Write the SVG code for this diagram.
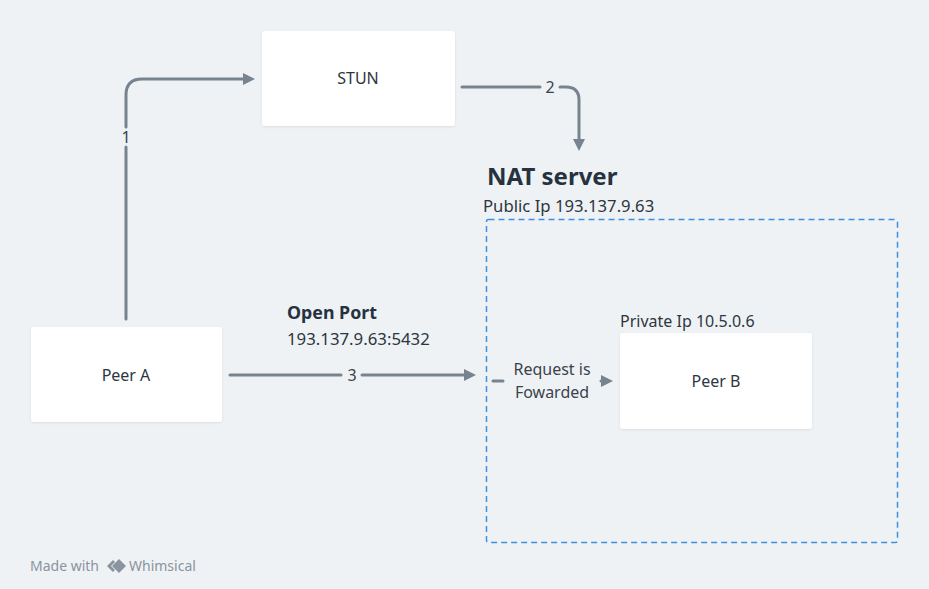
<svg xmlns="http://www.w3.org/2000/svg" width="929" height="589" viewBox="0 0 929 589">
<defs>
<style>
.node{fill:#ffffff;filter:url(#sh)}
.lbl{font-family:"Noto Sans","Liberation Sans",sans-serif;font-size:16px;fill:#2d3640}
.conn{fill:none;stroke:#77838f;stroke-width:3;stroke-linecap:round}
.cl{font-family:"Noto Sans","Liberation Sans",sans-serif;font-size:16px;fill:#3a434c;text-anchor:middle}
</style>
<filter id="sh" x="-10%" y="-10%" width="120%" height="130%">
<feDropShadow dx="0" dy="1" stdDeviation="1" flood-color="#000" flood-opacity="0.08"/>
</filter>
<marker id="ah" viewBox="0 0 10 10" refX="5" refY="5" markerWidth="4" markerHeight="4" orient="auto" markerUnits="strokeWidth">
<path d="M0,0 L10,5 L0,10 z" fill="#77838f"/>
</marker>
</defs>
<rect width="929" height="589" fill="#eff2f5"/>

<g id="nat">
<rect x="486.5" y="219.5" width="411" height="323" fill="none" stroke="#3d8fe0" stroke-width="1.5" stroke-dasharray="6,4" rx="2"/>
<text x="487" y="185" font-family="'Noto Sans','Liberation Sans',sans-serif" font-size="24" font-weight="bold" fill="#26323e">NAT server</text>
<text x="483" y="212" class="lbl" style="font-size:16.7px">Public Ip 193.137.9.63</text>
</g>

<g id="stun">
<rect class="node" x="262" y="31" width="193" height="95" rx="3"/>
<text x="358" y="84" class="lbl" text-anchor="middle">STUN</text>
</g>
<g id="peerA">
<rect class="node" x="31" y="327" width="191" height="95" rx="3"/>
<text x="126" y="381" class="lbl" text-anchor="middle">Peer A</text>
</g>
<g id="peerB">
<text x="620" y="327" class="lbl">Private Ip 10.5.0.6</text>
<rect class="node" x="620" y="333" width="192" height="96" rx="3"/>
<text x="716" y="387" class="lbl" text-anchor="middle">Peer B</text>
</g>

<g id="openport">
<text x="287" y="319" font-family="'Noto Sans','Liberation Sans',sans-serif" font-size="17.8" font-weight="bold" fill="#26323e">Open Port</text>
<text x="287" y="345" class="lbl" style="font-size:16.8px">193.137.9.63:5432</text>
</g>

<g id="connectors">
<path class="conn" d="M126,319 V147 M126,127 V95 Q126,79 142,79 H249" marker-end="url(#ah)"/>
<text x="126" y="143" class="cl">1</text>
<path class="conn" d="M462,87 H540 M560,87 H566 Q579,87 579,100 V145" marker-end="url(#ah)"/>
<text x="550" y="93" class="cl">2</text>
<path class="conn" d="M230,375 H341 M362,375 H470" marker-end="url(#ah)"/>
<text x="352" y="381" class="cl">3</text>
<path class="conn" d="M493,381 H503"/>
<path class="conn" d="M601,381 H607" marker-end="url(#ah)"/>
<text x="552" y="375" class="cl">Request is</text>
<text x="552" y="398" class="cl">Fowarded</text>
</g>

<g id="footer">
<text x="30" y="571" font-family="'Noto Sans','Liberation Sans',sans-serif" font-size="14" fill="#8a949e">Made with</text>
<path d="M107,566 L113,560 L115,562 L111,566 L115,570 L113,572 z" fill="#8a949e"/>
<path d="M112,566 L119,559 L126,566 L119,573 z" fill="#8a949e"/>
<text x="129" y="571" font-family="'Noto Sans','Liberation Sans',sans-serif" font-size="14" fill="#8a949e">Whimsical</text>
</g>
</svg>
